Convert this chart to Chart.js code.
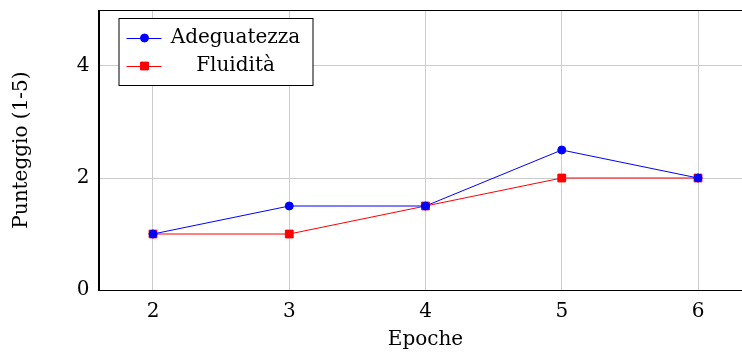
<!DOCTYPE html>
<html>
<head>
<meta charset="utf-8">
<script src="https://cdn.jsdelivr.net/npm/chart.js@4.4.0/dist/chart.umd.min.js"></script>
<style>
  html, body { margin: 0; padding: 0; background: #fff; overflow: hidden; }
  #wrap { width: 754px; height: 353px; }
</style>
</head>
<body>
<div id="wrap"><canvas id="chart" width="754" height="353"></canvas></div>
<script>
const epoche = [2, 3, 4, 5, 6];
const adeguatezza = [1, 1.5, 1.5, 2.5, 2];
const fluidita = [1, 1, 1.5, 2, 2];
const xTicks = [2, 3, 4, 5, 6];
const yTicks = [0, 2, 4];

const FONT = "'DejaVu Serif', serif";
const FSIZE = 20;

// frame on top of the plot area (pgfplots box)
const frame = {
  id: 'frame',
  afterDatasetsDraw(chart) {
    const { ctx, chartArea: a } = chart;
    ctx.save();
    ctx.strokeStyle = '#000';
    ctx.lineWidth = 1;
    ctx.strokeRect(Math.round(a.left) + 0.5, Math.round(a.top) + 0.5,
      Math.round(a.right - a.left), Math.round(a.bottom - a.top));
    ctx.restore();
  }
};

// legend box in the upper left corner
const boxLegend = {
  id: 'boxLegend',
  afterDraw(chart) {
    const { ctx, chartArea: a } = chart;
    const x0 = a.left + 20, y0 = a.top + 8, w = 194, h = 67;
    ctx.save();
    ctx.fillStyle = '#fff';
    ctx.fillRect(x0, y0, w, h);
    ctx.strokeStyle = '#000';
    ctx.lineWidth = 1;
    ctx.strokeRect(x0 + 0.5, y0 + 0.5, w, h);
    ctx.font = FSIZE + 'px ' + FONT;
    ctx.textAlign = 'center';
    ctx.textBaseline = 'middle';
    chart.data.datasets.forEach((ds, i) => {
      const cy = y0 + 20 + i * 28;
      ctx.strokeStyle = ds.borderColor;
      ctx.lineWidth = 1;
      ctx.beginPath();
      ctx.moveTo(x0 + 8, cy + 0.5);
      ctx.lineTo(x0 + 43, cy + 0.5);
      ctx.stroke();
      Chart.helpers.drawPoint(ctx, {
        pointStyle: ds.pointStyle, radius: ds.pointRadius, borderWidth: 1
      }, x0 + 26, cy);
      ctx.fillStyle = ds.pointBackgroundColor;
      ctx.fill();
      ctx.fillStyle = '#000';
      ctx.fillText(ds.label, x0 + 117, cy);
    });
    ctx.restore();
  }
};

const noPad = s => { s.paddingTop = 0; s.paddingBottom = 0; s.paddingLeft = 0; s.paddingRight = 0; };

new Chart(document.getElementById('chart'), {
  type: 'line',
  data: {
    datasets: [
      {
        label: 'Adeguatezza',
        data: epoche.map((e, i) => ({ x: e, y: adeguatezza[i] })),
        borderColor: '#0000ff',
        backgroundColor: '#0000ff',
        pointBackgroundColor: '#0000ff',
        pointBorderColor: '#0000ff',
        pointStyle: 'circle',
        pointRadius: 4,
        borderWidth: 1,
        tension: 0
      },
      {
        label: 'Fluidità',
        data: epoche.map((e, i) => ({ x: e, y: fluidita[i] })),
        borderColor: '#ff0000',
        backgroundColor: '#ff0000',
        pointBackgroundColor: '#ff0000',
        pointBorderColor: '#ff0000',
        pointStyle: 'rect',
        pointRadius: 5.5,
        borderWidth: 1,
        tension: 0
      }
    ]
  },
  options: {
    responsive: false,
    animation: false,
    devicePixelRatio: 1,
    layout: { autoPadding: false, padding: { left: 0, top: 10, right: 1.5, bottom: 0 } },
    plugins: {
      legend: { display: false },
      tooltip: { enabled: false }
    },
    scales: {
      x: {
        type: 'linear',
        min: 1.6,
        max: 6.4,
        afterBuildTicks: s => { s.ticks = xTicks.map(v => ({ value: v })); },
        afterFit: s => { s.height = 63; noPad(s); },
        grid: { color: '#cccccc', lineWidth: 1, drawTicks: false },
        border: { color: '#000', width: 1 },
        ticks: { color: '#000', font: { family: FONT, size: FSIZE }, padding: 10 },
        title: {
          display: true, text: 'Epoche', color: '#000',
          font: { family: FONT, size: FSIZE }, padding: { top: 0, bottom: 1 }
        }
      },
      y: {
        min: 0,
        max: 5,
        afterBuildTicks: s => { s.ticks = yTicks.map(v => ({ value: v })); },
        afterFit: s => { s.width = 98.5; noPad(s); },
        grid: { color: '#cccccc', lineWidth: 1, drawTicks: false },
        border: { color: '#000', width: 1 },
        ticks: { color: '#000', font: { family: FONT, size: FSIZE }, padding: 9 },
        title: {
          display: true, text: 'Punteggio (1-5)', color: '#000',
          font: { family: FONT, size: FSIZE }, padding: { top: 10, bottom: 0 }
        }
      }
    }
  },
  plugins: [frame, boxLegend]
});
</script>
</body>
</html>
